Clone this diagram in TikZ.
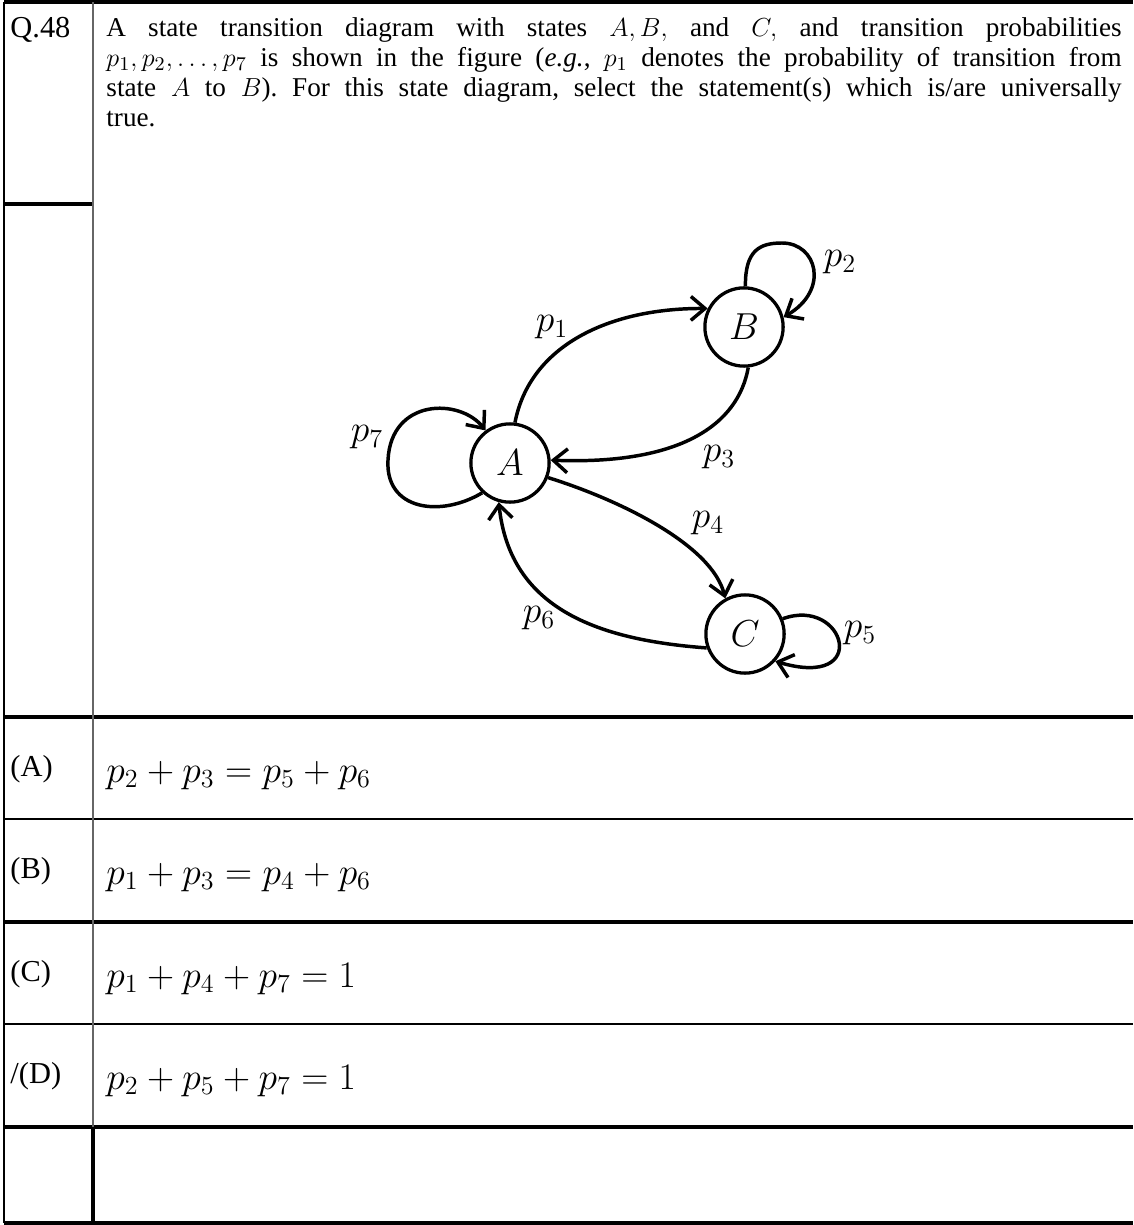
\documentclass[tikz,border=0pt]{standalone}
\usepackage{fontspec}
\setmainfont{Liberation Serif}
\usetikzlibrary{arrows.meta}
\tikzset{
  thickrule/.style={line width=1.4pt},
  thinrule/.style={line width=0.7pt},
  greyrule/.style={line width=0.7pt, black!60},
  state/.style={circle, draw, line width=1.5pt, minimum size=36pt, inner sep=0pt, font=\fontsize{16}{18}\selectfont},
  trans/.style={line width=1.6pt, -{Straight Barb[length=6.5pt,width=11pt,line width=1.6pt]}},
  plab/.style={inner sep=0pt, font=\fontsize{18}{20}\selectfont},
  optlab/.style={anchor=base west, inner sep=0pt, font=\fontsize{14}{16}\selectfont},
  optmath/.style={anchor=base west, inner sep=0pt, font=\fontsize{17}{20}\selectfont},
}
\begin{document}
\begin{tikzpicture}[x=0.46pt,y=-0.46pt]
\useasboundingbox (0,0) rectangle (1133,1225);
% table rules
\draw[thickrule] (4,2) -- (1133,2);
\draw[thickrule] (4,204) -- (93,204);
\draw[thickrule] (4,717) -- (1133,717);
\draw[thinrule] (4,819) -- (1133,819);
\draw[thickrule] (4,922) -- (1133,922);
\draw[thinrule] (4,1024) -- (1133,1024);
\draw[thickrule] (4,1127) -- (1133,1127);
\draw[thickrule] (4,1223) -- (1133,1223);
\draw[thinrule] (4,2) -- (4,1223);
\draw[greyrule] (93,2) -- (93,1127);
\draw[thickrule] (93,1127) -- (93,1223);
% question
\node[optlab] (qnum) at (10,38) {Q.48};
\node[anchor=base west, inner sep=0pt] (qtext) at (106,37) {\parbox[t]{467pt}{\fontsize{12.5}{13.8}\selectfont\frenchspacing
A state transition diagram with states $A,B,$ and $C,$ and transition probabilities\linebreak
$p_1,p_2,\ldots,p_7$ is shown in the figure (\textit{e.g.}, $p_1$ denotes the probability of transition from\linebreak
state $A$ to $B$). For this state diagram, select the statement(s) which is/are universally\linebreak
true.}};
% diagram
\node[state] (A) at (510,463) {$A$};
\node[state] (B) at (744,327) {$B$};
\node[state] (C) at (745,634) {$C$};
\draw[trans] (A.83) .. controls (530,345) and (610,308) .. (B.153);
\draw[trans] (B.-84) .. controls (738,425) and (680,465) .. (A.4);
\draw[trans] (A.-21) .. controls (620,500) and (712,545) .. (C.119);
\draw[trans] (C.-160) .. controls (600,640) and (510,610) .. (A.-106);
\draw[trans] (A.-133) .. controls (440,518) and (385,510) .. (388,460) .. controls (391,398) and (460,398) .. (A.127);
\draw[trans] (B.88) .. controls (745,250) and (760,243) .. (782,243) .. controls (817,243) and (830,290) .. (B.14);
\draw[trans] (C.22) .. controls (845,596) and (872,690) .. (C.-42);
\node[plab] (l1) at (552,327) {$p_1$};
\node[plab] (l2) at (840,262) {$p_2$};
\node[plab] (l3) at (719,457) {$p_3$};
\node[plab] (l4) at (708,523) {$p_4$};
\node[plab] (l5) at (860,633) {$p_5$};
\node[plab] (l6) at (539,618) {$p_6$};
\node[plab] (l7) at (367,437) {$p_7$};
% options
\node[optlab] (oa) at (10,776) {(A)};
\node[optmath] (ma) at (106,782) {$p_2 + p_3 = p_5 + p_6$};
\node[optlab] (ob) at (10,878) {(B)};
\node[optmath] (mb) at (106,884) {$p_1 + p_3 = p_4 + p_6$};
\node[optlab] (oc) at (10,981) {(C)};
\node[optmath] (mc) at (106,987) {$p_1 + p_4 + p_7 = 1$};
\node[optlab] (od) at (10,1083) {/(D)};
\node[optmath] (md) at (106,1089) {$p_2 + p_5 + p_7 = 1$};
\end{tikzpicture}
\end{document}
